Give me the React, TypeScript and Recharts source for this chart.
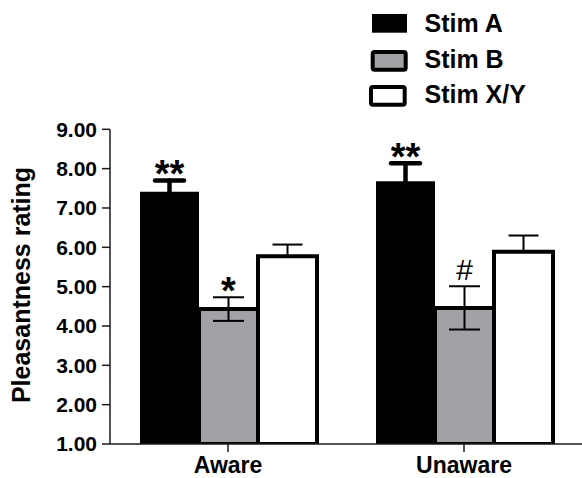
import React from 'react';
import { BarChart, Bar, XAxis, YAxis, ErrorBar, LabelList, Legend, Label } from 'recharts';

const categories = ['Aware', 'Unaware'];
const stimA = [7.41, 7.68];
const stimAErr = [0.29, 0.46];
const stimB = [4.43, 4.46];
const stimBErr = [0.3, 0.55];
const stimXY = [5.77, 5.89];
const stimXYErr = [0.3, 0.41];
const stimALabels = ['**', '**'];
const stimBLabels = ['*', '#'];
const yTicks = [1, 2, 3, 4, 5, 6, 7, 8, 9];
const seriesNames = ['Stim A', 'Stim B', 'Stim X/Y'];
const yLabel = 'Pleasantness rating';

const FONT = '"Liberation Sans", Arial, Helvetica, sans-serif';
const GRAY = '#a2a1a6';

const data = categories.map((c, i) => ({
  name: c,
  a: stimA[i],
  aErr: stimAErr[i],
  b: stimB[i],
  bErr: stimBErr[i],
  xy: stimXY[i],
  xyErr: [0, stimXYErr[i]],
}));

const makeMark = (vals: number[], errs: number[], labels: string[]) => (props: any) => {
  const vb = props.viewBox ?? props;
  const idx = categories.indexOf(props.value);
  if (idx < 0) return null;
  const h = Number(vb.height);
  const top = h >= 0 ? Number(vb.y) : Number(vb.y) + h;
  const pxPerUnit = Math.abs(h) / (vals[idx] - yTicks[0]);
  const capY = top - errs[idx] * pxPerUnit;
  const cx = Number(vb.x) + Number(vb.width) / 2;
  const text = labels[idx];
  if (text === '#') {
    return (
      <text x={cx} y={capY - 6.5} textAnchor="middle" fontSize={30} fontFamily={FONT} fill="#000">
        {text}
      </text>
    );
  }
  return (
    <text x={cx} y={capY + 7} textAnchor="middle" fontSize={38} fontWeight={700} fontFamily={FONT} fill="#000">
      {text}
    </text>
  );
};

const legendStyles = [
  { x: 6, y: 14, w: 35, h: 18.7, fill: '#000', stroke: 'none', sw: 0, ty: 32.3 },
  { x: 6.7, y: 52, w: 33, h: 17.7, fill: GRAY, stroke: '#000', sw: 4, ty: 68.3 },
  { x: 5, y: 87, w: 33.7, h: 17.7, fill: '#fff', stroke: '#000', sw: 4, ty: 103.3 },
];

const renderLegend = () => (
  <svg width={216} height={112} style={{ display: 'block' }}>
    {seriesNames.map((n, i) => {
      const s = legendStyles[i];
      return (
        <g key={n}>
          <rect x={s.x} y={s.y} width={s.w} height={s.h} fill={s.fill} stroke={s.stroke} strokeWidth={s.sw} rx={s.sw ? 2 : 0} />
          <text x={58.5} y={s.ty} fontSize={25} fontWeight={700} fontFamily={FONT} fill="#000">
            {n}
          </text>
        </g>
      );
    })}
  </svg>
);

const renderYLabel = () => (
  <text
    x={30}
    y={285}
    transform="rotate(-90 30 285)"
    textAnchor="middle"
    fontSize={25}
    fontWeight={700}
    fontFamily={FONT}
    fill="#000"
  >
    {yLabel}
  </text>
);

export default function App() {
  return (
    <div style={{ position: 'absolute', left: 0, top: 0, background: '#fff' }}>
      <BarChart
        width={582}
        height={478}
        data={data}
        margin={{ top: 129.3, right: 0, bottom: 0, left: 0 }}
        barCategoryGap={30}
        barGap={0}
      >
        <XAxis
          dataKey="name"
          height={34}
          tickSize={8}
          tickMargin={5}
          axisLine={{ stroke: '#1a1a1a', strokeWidth: 1.5 }}
          tickLine={{ stroke: '#1a1a1a', strokeWidth: 1.5 }}
          tick={{ fontSize: 23, fontWeight: 700, fill: '#000', fontFamily: FONT }}
        />
        <YAxis
          type="number"
          domain={[1, 9]}
          ticks={yTicks}
          interval={0}
          allowDataOverflow
          tickFormatter={(v: number) => v.toFixed(2)}
          width={110}
          tickSize={8}
          tickMargin={5}
          axisLine={{ stroke: '#1a1a1a', strokeWidth: 1.5 }}
          tickLine={{ stroke: '#1a1a1a', strokeWidth: 1.5 }}
          tick={{ fontSize: 21, fontWeight: 700, fill: '#000', fontFamily: FONT }}
        >
          <Label content={renderYLabel} />
        </YAxis>
        <Legend
          layout="vertical"
          align="center"
          verticalAlign="middle"
          content={renderLegend}
          wrapperStyle={{ left: 366, top: 0, width: 216, height: 112 }}
        />
        <Bar dataKey="a" name="Stim A" fill="#000" isAnimationActive={false}>
          <ErrorBar dataKey="aErr" width={14.5} stroke="#000" strokeWidth={4.5} strokeLinecap="round" />
          <LabelList dataKey="name" content={makeMark(stimA, stimAErr, stimALabels)} />
        </Bar>
        <Bar dataKey="b" name="Stim B" fill={GRAY} stroke="#000" strokeWidth={4} isAnimationActive={false}>
          <ErrorBar dataKey="bErr" width={15.5} stroke="#000" strokeWidth={2} />
          <LabelList dataKey="name" content={makeMark(stimB, stimBErr, stimBLabels)} />
        </Bar>
        <Bar dataKey="xy" name="Stim X/Y" fill="#fff" stroke="#000" strokeWidth={4} isAnimationActive={false}>
          <ErrorBar dataKey="xyErr" width={15} stroke="#000" strokeWidth={2} />
        </Bar>
      </BarChart>
    </div>
  );
}
